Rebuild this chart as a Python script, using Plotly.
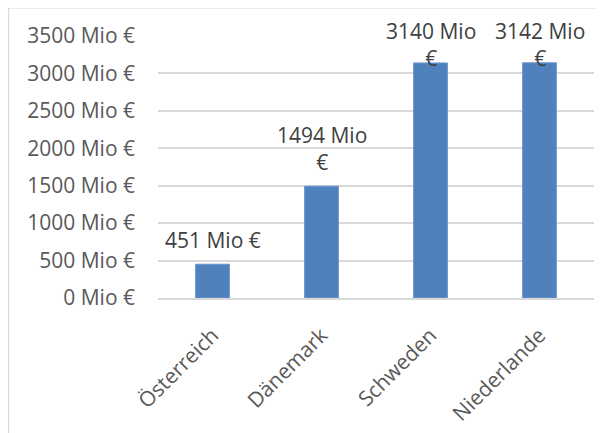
import plotly.graph_objects as go

countries = ["Österreich", "Dänemark", "Schweden", "Niederlande"]
values = [451, 1494, 3140, 3142]
y_ticks = [0, 500, 1000, 1500, 2000, 2500, 3000, 3500]

labels = [f"{v} Mio €" if v < 1000 else f"{v} Mio<br>€" for v in values]

FONT = "Open Sans"
SIZE = 21
Y_MAX = 3500
LABEL_CAP = 2890  # labels are kept inside the chart area, like the original

fig = go.Figure()
fig.add_trace(go.Bar(
    x=countries,
    y=values,
    marker=dict(color="#4f81bd", line=dict(color="#6a95cc", width=1)),
    width=0.31,
))

for c, v, t in zip(countries, values, labels):
    fig.add_annotation(
        x=c, y=min(v, LABEL_CAP), xref="x", yref="y",
        text=t, showarrow=False, yanchor="bottom", yshift=8,
        font=dict(family=FONT, size=SIZE, color="#404040"),
    )

fig.update_layout(
    width=597,
    height=425,
    margin=dict(l=150, r=11, t=28, b=135),
    paper_bgcolor="white",
    plot_bgcolor="white",
    showlegend=False,
    font=dict(family=FONT, size=SIZE, color="#595959"),
    xaxis=dict(
        showgrid=False,
        showline=True,
        linecolor="#d9d9d9",
        linewidth=1.5,
        tickangle=-45,
        ticks="",
        ticklabelstandoff=15,
        automargin=False,
        tickfont=dict(family=FONT, size=SIZE, color="#595959"),
    ),
    yaxis=dict(
        range=[0, Y_MAX],
        tickvals=y_ticks,
        ticktext=[f"{t} Mio €" for t in y_ticks],
        showgrid=True,
        gridcolor="#d9d9d9",
        gridwidth=1.5,
        zeroline=False,
        showline=False,
        ticks="",
        ticklabelstandoff=22,
        automargin=False,
        tickfont=dict(family=FONT, size=SIZE, color="#595959"),
    ),
    shapes=[
        dict(type="rect", xref="paper", yref="paper",
             x0=-0.343, x1=1.06, y0=-0.6, y1=1.108,
             line=dict(color="#d9d9d9", width=1.5), fillcolor="rgba(0,0,0,0)",
             layer="below"),
    ],
)

fig.write_html("out.html")
